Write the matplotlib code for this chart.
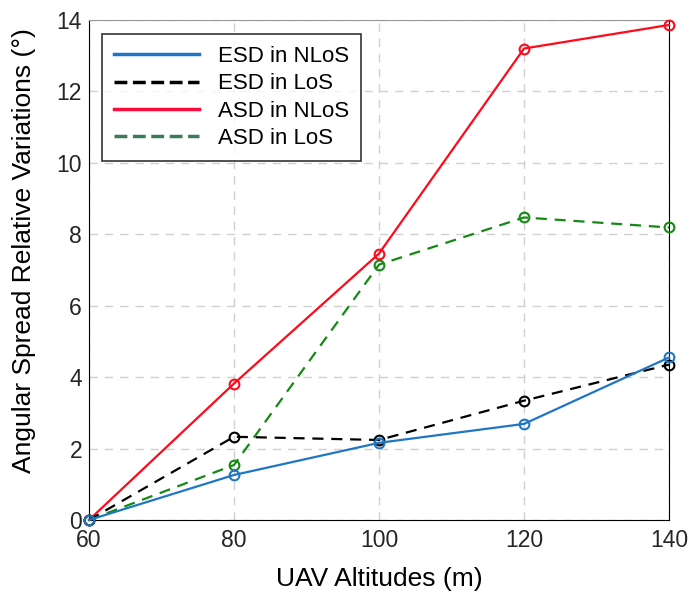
import numpy as np
import matplotlib.pyplot as plt
from matplotlib.lines import Line2D

plt.rcParams['font.family'] = ['Liberation Sans', 'DejaVu Sans']

altitudes = [60, 80, 100, 120, 140]
esd_nlos = [0, 1.26, 2.16, 2.69, 4.55]
esd_los = [0, 2.33, 2.24, 3.34, 4.35]
asd_nlos = [0, 3.82, 7.46, 13.2, 13.86]
asd_los = [0, 1.54, 7.15, 8.47, 8.19]

labels = ['ESD in NLoS', 'ESD in LoS', 'ASD in NLoS', 'ASD in LoS']
colors = ['#1f77c4', 'black', '#ff0a1a', '#138a13']
legend_colors = ['#1f77c4', 'black', '#ff0a3a', '#3c7a5a']
styles = ['-', '--', '-', '--']

fig = plt.figure(figsize=(6.91, 5.94), dpi=100)
ax = fig.add_axes([0.1288, 0.1246, 0.8394, 0.8418])

series = [esd_nlos, esd_los, asd_nlos, asd_los]
# draw back to front so blue sits on top like the original
for vals, c, ls in zip(series[::-1], colors[::-1], styles[::-1]):
    ax.plot(altitudes, vals, color=c, ls=ls, lw=1.6, marker='o', ms=7,
            mfc='none', mew=1.5, dashes=(5, 3.5) if ls == '--' else (None, None),
            clip_on=False, zorder=3)

ax.set_xlim(60, 140)
ax.set_ylim(0, 14)
ax.set_xticks(altitudes)
ax.set_yticks(np.arange(0, 15, 2))
ax.tick_params(labelsize=16.5, length=0, colors='#262626')
ax.tick_params(axis='x', pad=6.5)
ax.tick_params(axis='y', pad=5)
ax.grid(True, ls=(0, (6, 5)), color='#d0d0d0', lw=1)
ax.set_axisbelow(True)
for s in ax.spines.values():
    s.set_color('black')
ax.spines['top'].set_color('#999999')

ax.set_xlabel('UAV Altitudes (m)', fontsize=19, labelpad=11)
ax.set_ylabel('Angular Spread Relative Variations (°)', fontsize=19)
ax.yaxis.set_label_coords(-0.091, 0.538)

handles = [Line2D([0], [0], color=c, ls=ls, lw=2.5) for c, ls in zip(legend_colors, styles)]
leg = ax.legend(handles, labels, loc='upper left', bbox_to_anchor=(0.0224, 0.972),
                borderaxespad=0, fontsize=16, frameon=True, fancybox=False,
                edgecolor='black', handlelength=3.8, handletextpad=0.85,
                labelspacing=0.28, borderpad=0.55)
leg.get_frame().set_linewidth(1.2)

fig.savefig('out.png', dpi=100)
